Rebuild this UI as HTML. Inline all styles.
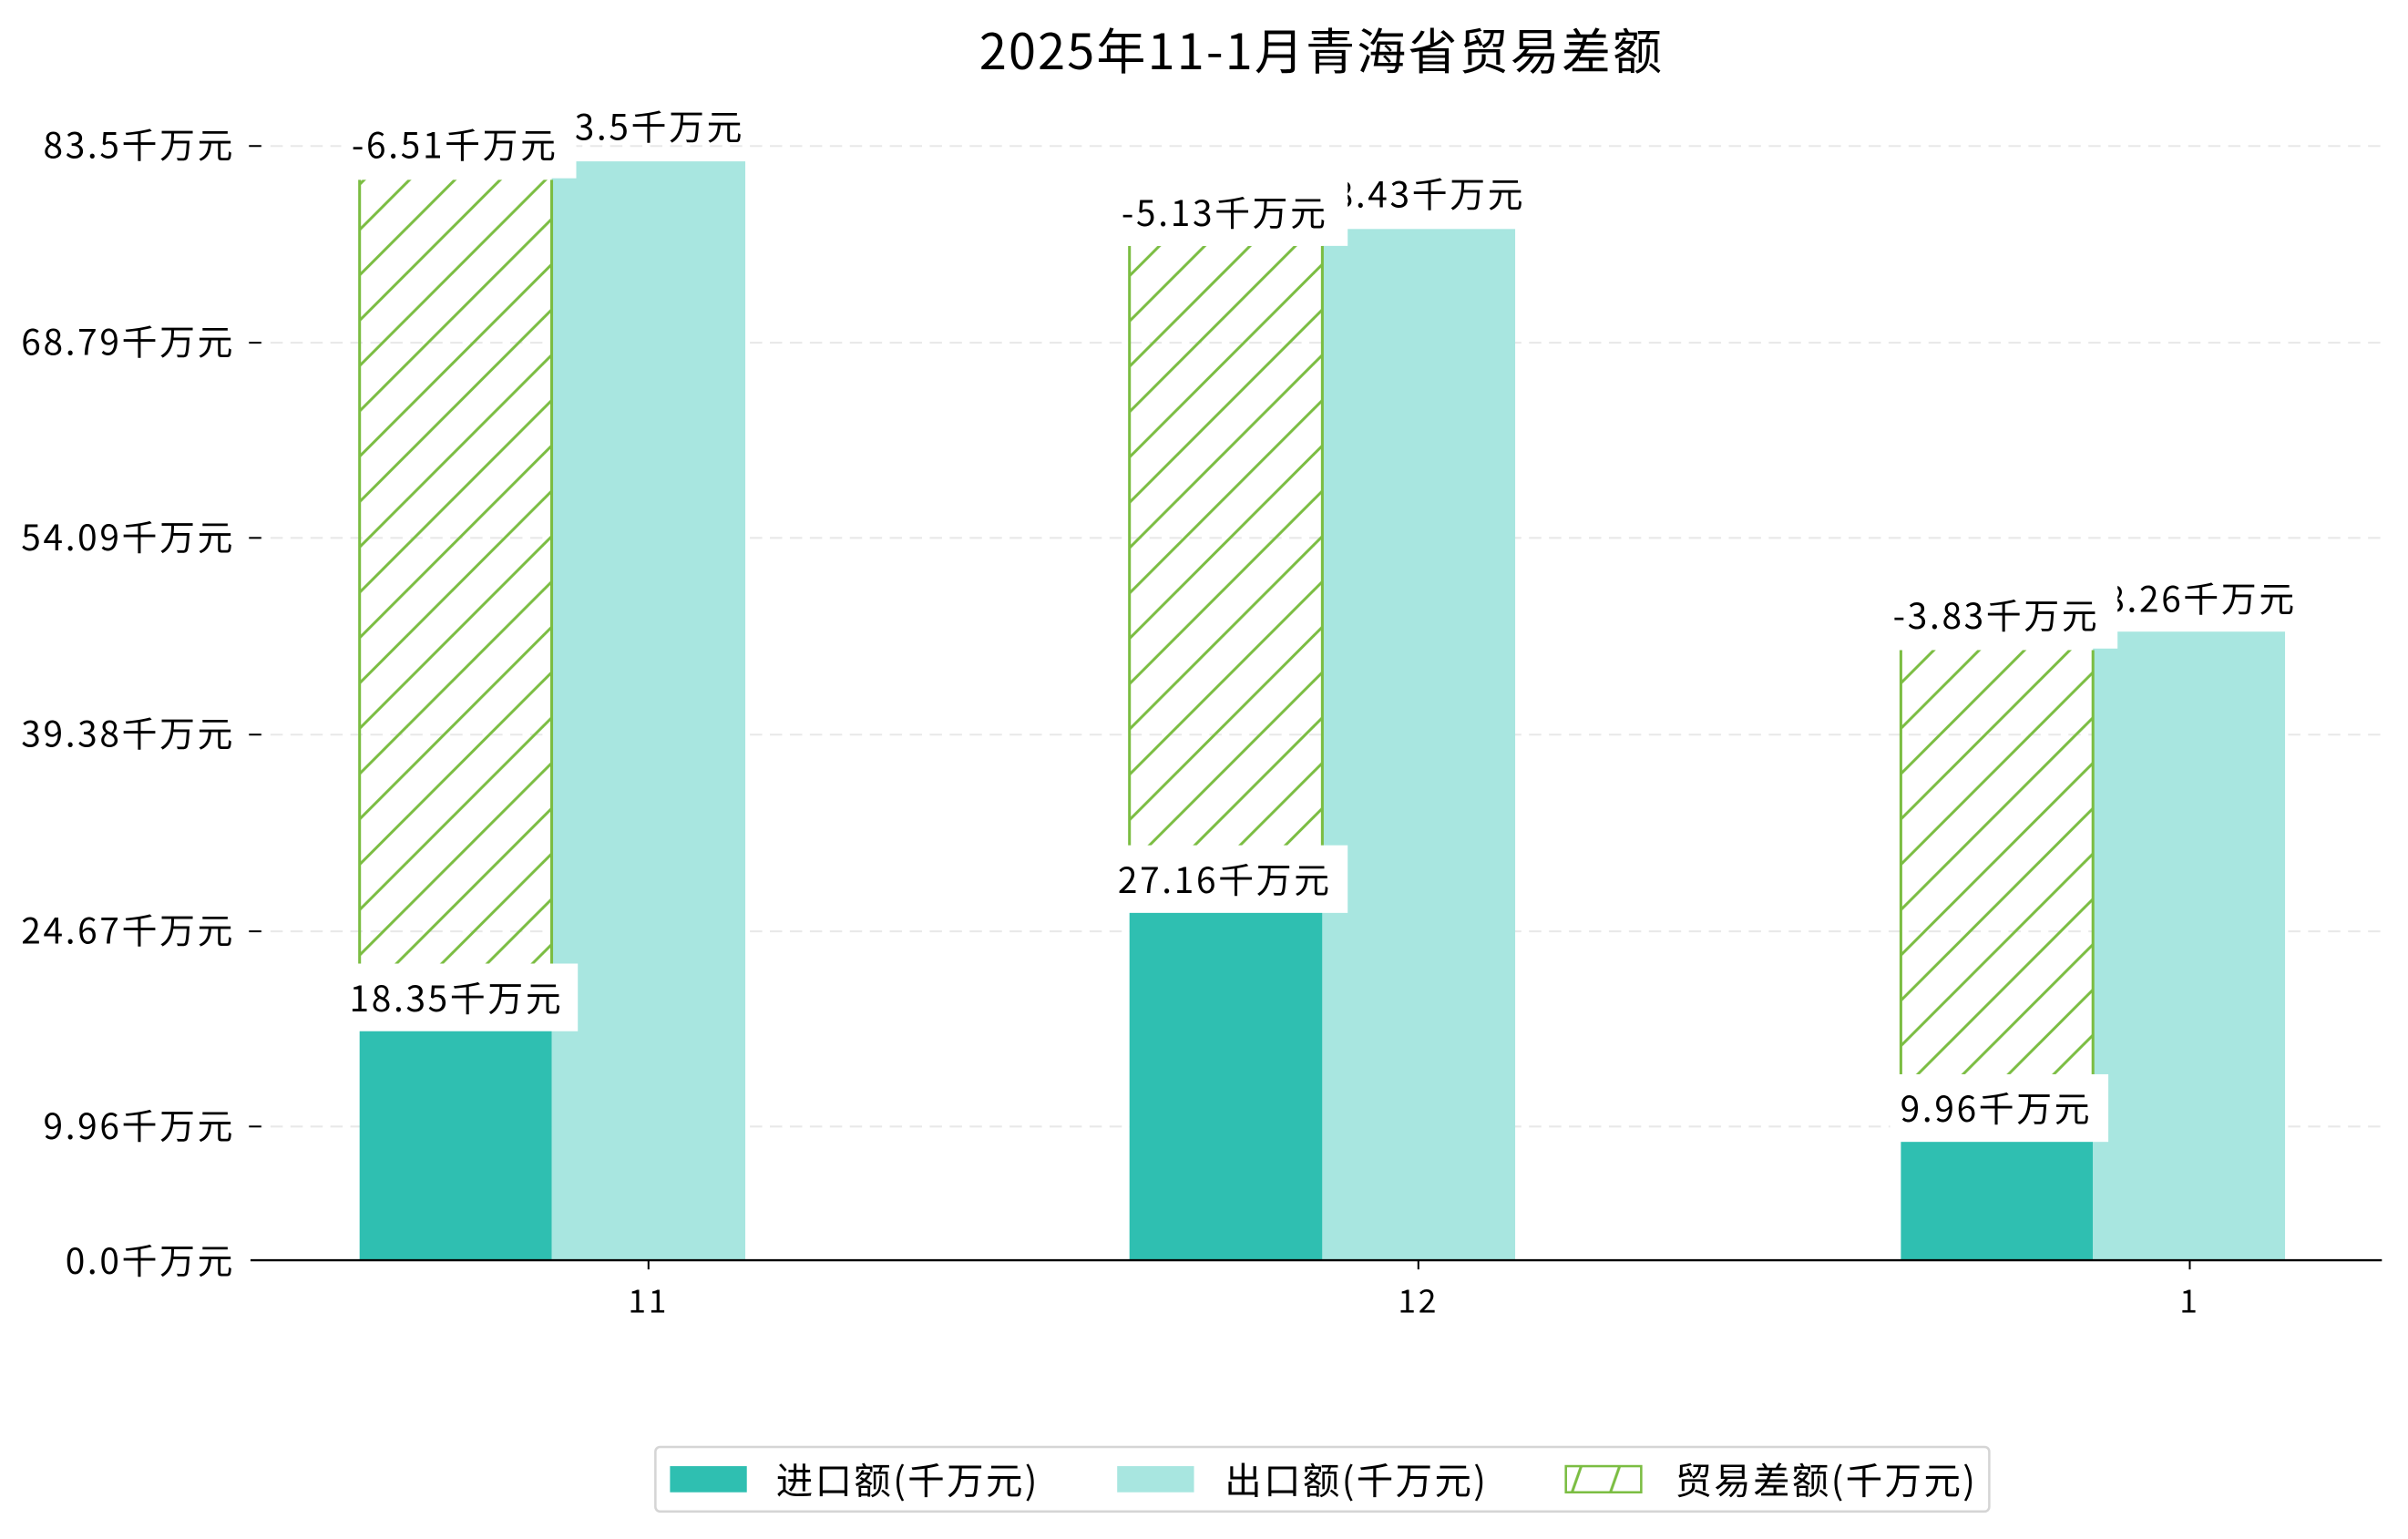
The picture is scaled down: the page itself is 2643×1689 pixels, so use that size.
<!DOCTYPE html>
<html><head><meta charset="utf-8"><style>
html,body{margin:0;padding:0;background:#fff;}
svg{display:block;}
text{font-family:"WenQuanYi Zen Hei","Noto Sans CJK SC",sans-serif;fill:#000;}
.n{letter-spacing:1.6px;}
</style></head><body>
<svg width="2643" height="1689" viewBox="0 0 1567 1001.4" xmlns="http://www.w3.org/2000/svg">
<defs>
<pattern id="h" patternUnits="userSpaceOnUse" width="29.5" height="29.5">
<line x1="-2" y1="31.5" x2="31.5" y2="-2" stroke="#7BBD42" stroke-width="1.8"/>
<line x1="-31.5" y1="31.5" x2="2" y2="-2" stroke="#7BBD42" stroke-width="1.8"/>
<line x1="27.5" y1="31.5" x2="61" y2="-2" stroke="#7BBD42" stroke-width="1.8"/>
</pattern>
<pattern id="h2" patternUnits="userSpaceOnUse" width="25" height="17" x="1019" y="954">
<line x1="4" y1="17" x2="10" y2="0" stroke="#7BBD42" stroke-width="1.8"/>
</pattern>
</defs>
<text x="860" y="45" font-size="32" text-anchor="middle" style="letter-spacing:1.3px">2025年11-1月青海省贸易差额</text>
<g stroke="#e8e8e8" stroke-width="1.2" stroke-dasharray="8,5">
<line x1="163" y1="95" x2="1550" y2="95"/>
<line x1="163" y1="223" x2="1550" y2="223"/>
<line x1="163" y1="350" x2="1550" y2="350"/>
<line x1="163" y1="478" x2="1550" y2="478"/>
<line x1="163" y1="606" x2="1550" y2="606"/>
<line x1="163" y1="733" x2="1550" y2="733"/>
</g>
<g stroke="#000" stroke-width="1.2">
<line x1="162" y1="95" x2="170" y2="95"/>
<line x1="162" y1="223" x2="170" y2="223"/>
<line x1="162" y1="350" x2="170" y2="350"/>
<line x1="162" y1="478" x2="170" y2="478"/>
<line x1="162" y1="606" x2="170" y2="606"/>
<line x1="162" y1="733" x2="170" y2="733"/>
<line x1="422" y1="820" x2="422" y2="826"/>
<line x1="923" y1="820" x2="923" y2="826"/>
<line x1="1425" y1="820" x2="1425" y2="826"/>
</g>
<g font-size="23" text-anchor="end" class="n">
<text x="153" y="103">83.5千万元</text>
<text x="153" y="231">68.79千万元</text>
<text x="153" y="358">54.09千万元</text>
<text x="153" y="486">39.38千万元</text>
<text x="153" y="614">24.67千万元</text>
<text x="153" y="741">9.96千万元</text>
<text x="153" y="829">0.0千万元</text>
</g>
<g font-size="21" text-anchor="middle" class="n">
<text x="422" y="854">11</text>
<text x="923" y="854">12</text>
<text x="1425" y="854">1</text>
</g>
<rect x="234" y="661" width="125" height="159" fill="#2FBFB1"/>
<rect x="735" y="584" width="125.5" height="236" fill="#2FBFB1"/>
<rect x="1237" y="733" width="125" height="87" fill="#2FBFB1"/>
<rect x="359" y="105" width="126" height="715" fill="#A8E6E0"/>
<rect x="860.5" y="149" width="125.5" height="671" fill="#A8E6E0"/>
<rect x="1362" y="411" width="125" height="409" fill="#A8E6E0"/>
<g stroke="#7BBD42" stroke-width="1.8">
<rect x="234" y="117" width="125" height="544" fill="url(#h)" stroke="none"/>
<line x1="234" y1="117" x2="234" y2="661"/><line x1="359" y1="117" x2="359" y2="661"/>
<rect x="735" y="160" width="125.5" height="424" fill="url(#h)" stroke="none"/>
<line x1="735" y1="160" x2="735" y2="584"/><line x1="860.5" y1="160" x2="860.5" y2="584"/>
<rect x="1237" y="423" width="125" height="310" fill="url(#h)" stroke="none"/>
<line x1="1237" y1="423" x2="1237" y2="733"/><line x1="1362" y1="423" x2="1362" y2="733"/>
</g>
<line x1="163" y1="820" x2="1550" y2="820" stroke="#000" stroke-width="1.4"/>
<g font-size="23" text-anchor="middle" class="n">
<text x="422" y="91">83.5千万元</text>
<text x="923" y="135">78.43千万元</text>
<text x="1425" y="398">48.26千万元</text>
<rect x="222" y="72" width="153" height="44" fill="#fff"/>
<text x="296" y="103">-6.51千万元</text>
<rect x="222" y="627" width="154" height="44" fill="#fff"/>
<text x="297" y="658">18.35千万元</text>
<rect x="728" y="117" width="149" height="43" fill="#fff"/>
<text x="797" y="147">-5.13千万元</text>
<rect x="728" y="550" width="149" height="44" fill="#fff"/>
<text x="797" y="581">27.16千万元</text>
<rect x="1230" y="379" width="148" height="43" fill="#fff"/>
<text x="1299" y="409">-3.83千万元</text>
<rect x="1230" y="699" width="142" height="44" fill="#fff"/>
<text x="1299" y="730">9.96千万元</text>
</g>
<rect x="426.5" y="941.5" width="868" height="42" rx="3" fill="#fff" stroke="#d5d5d5" stroke-width="1.5"/>
<rect x="436" y="954" width="50" height="17" fill="#2FBFB1"/>
<rect x="727" y="954" width="50" height="17" fill="#A8E6E0"/>
<rect x="1019" y="954" width="49" height="17" fill="url(#h2)" stroke="#7BBD42" stroke-width="1.5"/>
<g font-size="24" style="letter-spacing:1.4px">
<text x="505" y="972">进口额(千万元)</text>
<text x="797" y="972">出口额(千万元)</text>
<text x="1090" y="972">贸易差额(千万元)</text>
</g>
</svg>
</body></html>
